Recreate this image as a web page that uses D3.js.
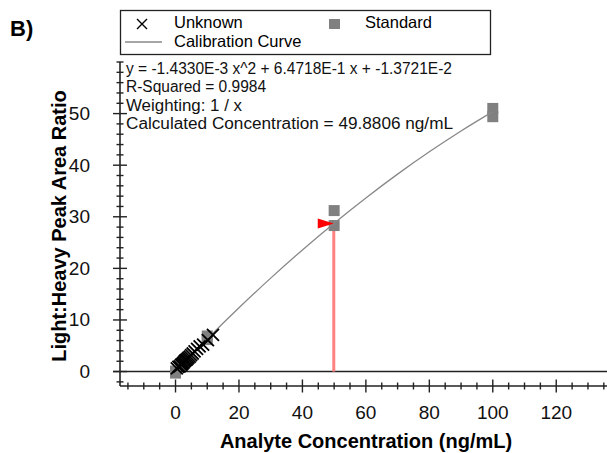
<!DOCTYPE html>
<html>
<head>
<meta charset="utf-8">
<script src="https://cdn.jsdelivr.net/npm/d3@7"></script>
<style>
  body { margin: 0; background: #fff; }
  svg { font-family: Arial, "Liberation Sans", sans-serif; display: block; }
</style>
</head>
<body>
<svg id="chart" width="607" height="453"></svg>
<script>
// calibration curve, sampled along the fitted quadratic shown in the annotation
const curveX = [0, 5, 10, 20, 30, 40, 50, 60, 70, 80, 90, 100];
const curveY = [-0.01, 3.19, 6.32, 12.36, 18.11, 23.58, 28.76, 33.66, 38.27, 42.59, 46.63, 50.38];

// standards (grey squares)
const standardX = [0, 0, 10, 10, 50, 50, 100, 100];
const standardY = [0.1, -0.3, 6.2, 6.9, 31.2, 28.3, 51.0, 49.4];

// unknowns (crosses)
const unknownX = [0.4, 0.9, 1.3, 1.7, 2.0, 2.3, 2.6, 2.9, 3.2, 3.5, 3.8, 4.1, 4.5, 4.9, 5.4, 6.0, 6.8, 7.6, 8.7, 10.2, 11.8];
const unknownY = [0.6, 0.9, 1.0, 1.3, 1.4, 1.6, 1.8, 2.0, 2.2, 2.3, 2.5, 2.7, 2.9, 3.2, 3.5, 3.9, 4.4, 4.9, 5.2, 6.1, 7.1];

// calculated concentration marker
const calcX = [49.8806];
const calcY = [28.70];

const yMajor = [0, 10, 20, 30, 40, 50];
const xMajor = [0, 20, 40, 60, 80, 100, 120];

const annotation = [
  "y = -1.4330E-3 x^2 + 6.4718E-1 x + -1.3721E-2",
  "R-Squared = 0.9984",
  "Weighting: 1 / x",
  "Calculated Concentration = 49.8806 ng/mL"
];
// rendered widths of the annotation lines in the original
const annotationWidth = [326, 140, 116, 327];

const svg = d3.select("#chart");

const x = d3.scaleLinear().domain([-17.5, 136]).range([120, 607]);
const y = d3.scaleLinear().domain([-2.8, 60]).range([386, 62]);

const axisColor = "#222";

// "B)" panel label
svg.append("text")
    .attr("x", 10).attr("y", 36)
    .attr("font-size", 22).attr("font-weight", "bold")
    .text("B)");

// zero line across the plot
svg.append("line")
    .attr("x1", 113).attr("x2", 607)
    .attr("y1", y(0)).attr("y2", y(0))
    .attr("stroke", axisColor).attr("stroke-width", 1.6);

// y axis (ticks crossing the line)
const gy = svg.append("g");
gy.append("line")
    .attr("x1", x(-17.5)).attr("x2", x(-17.5))
    .attr("y1", y(60)).attr("y2", y(-2.8))
    .attr("stroke", axisColor).attr("stroke-width", 1.6);
gy.selectAll("line.minor")
    .data(d3.range(-2, 61, 2))
    .enter().append("line")
    .attr("class", "minor")
    .attr("x1", d => yMajor.includes(d) ? x(-17.5) - 7 : x(-17.5) - 3.5)
    .attr("x2", d => yMajor.includes(d) ? x(-17.5) + 7 : x(-17.5) + 3.5)
    .attr("y1", d => y(d)).attr("y2", d => y(d))
    .attr("stroke", axisColor).attr("stroke-width", 1.4);
gy.selectAll("text")
    .data(yMajor)
    .enter().append("text")
    .attr("x", 90).attr("y", d => y(d))
    .attr("text-anchor", "end")
    .attr("dominant-baseline", "central")
    .attr("font-size", 19)
    .attr("fill", "#111")
    .text(d => d);

// x axis
const gx = svg.append("g");
gx.append("line")
    .attr("x1", x(-17.5)).attr("x2", 607)
    .attr("y1", y(-2.8)).attr("y2", y(-2.8))
    .attr("stroke", axisColor).attr("stroke-width", 1.6);
gx.selectAll("line.minor")
    .data(d3.range(-15, 136, 5))
    .enter().append("line")
    .attr("class", "minor")
    .attr("x1", d => x(d)).attr("x2", d => x(d))
    .attr("y1", d => xMajor.includes(d) ? y(-2.8) - 6.5 : y(-2.8) - 3.5)
    .attr("y2", d => xMajor.includes(d) ? y(-2.8) + 6.5 : y(-2.8) + 3.5)
    .attr("stroke", axisColor).attr("stroke-width", 1.4);
gx.selectAll("text")
    .data(xMajor)
    .enter().append("text")
    .attr("x", d => x(d)).attr("y", 412)
    .attr("text-anchor", "middle")
    .attr("dominant-baseline", "central")
    .attr("font-size", 19)
    .attr("fill", "#111")
    .text(d => d);

// axis titles
svg.append("text")
    .attr("x", 366).attr("y", 448)
    .attr("text-anchor", "middle")
    .attr("font-size", 20).attr("font-weight", "bold")
    .text("Analyte Concentration (ng/mL)");
svg.append("text")
    .attr("transform", "translate(66,226) rotate(-90)")
    .attr("text-anchor", "middle")
    .attr("font-size", 20).attr("font-weight", "bold")
    .text("Light:Heavy Peak Area Ratio");

// calculated concentration drop line
svg.append("line")
    .attr("x1", x(calcX[0])).attr("x2", x(calcX[0]))
    .attr("y1", y(calcY[0])).attr("y2", y(0))
    .attr("stroke", "#ff8080").attr("stroke-width", 3);

// standards
const sq = 11;
svg.append("g").selectAll("rect")
    .data(standardX.map((d, i) => [d, standardY[i]]))
    .enter().append("rect")
    .attr("x", d => x(d[0]) - sq / 2).attr("y", d => y(d[1]) - sq / 2)
    .attr("width", sq).attr("height", sq)
    .attr("fill", "#808080");

// calibration curve
const line = d3.line()
    .x(d => x(d[0])).y(d => y(d[1]))
    .curve(d3.curveMonotoneX);
svg.append("path")
    .datum(curveX.map((d, i) => [d, curveY[i]]))
    .attr("d", line)
    .attr("fill", "none")
    .attr("stroke", "#888").attr("stroke-width", 1.3);

// unknowns as crosses
const cs = 6;
svg.append("g").selectAll("path")
    .data(unknownX.map((d, i) => [d, unknownY[i]]))
    .enter().append("path")
    .attr("d", d => {
        const cx = x(d[0]), cy = y(d[1]);
        return `M${cx - cs},${cy - cs}L${cx + cs},${cy + cs}M${cx - cs},${cy + cs}L${cx + cs},${cy - cs}`;
    })
    .attr("stroke", "#000").attr("stroke-width", 1.8);

// red arrow pointing at the calculated point
const tx = x(calcX[0]), ty = y(calcY[0]);
svg.append("path")
    .attr("d", `M${tx - 16},${ty - 5}L${tx},${ty}L${tx - 16},${ty + 5}Z`)
    .attr("fill", "#ff0000");

// annotation text
svg.append("g").selectAll("text")
    .data(annotation)
    .enter().append("text")
    .attr("x", 126).attr("y", (d, i) => 74 + i * 18.3)
    .attr("font-size", 16)
    .attr("textLength", (d, i) => annotationWidth[i])
    .attr("lengthAdjust", "spacingAndGlyphs")
    .attr("fill", "#111")
    .text(d => d);

// legend
const lg = svg.append("g");
lg.append("rect")
    .attr("x", 120.5).attr("y", 10.5)
    .attr("width", 370).attr("height", 44)
    .attr("fill", "#fff").attr("stroke", "#222").attr("stroke-width", 1.3);
lg.append("path")
    .attr("d", `M${137},${19}L${147},${29}M${137},${29}L${147},${19}`)
    .attr("stroke", "#000").attr("stroke-width", 1.4);
lg.append("text").attr("x", 174).attr("y", 28).attr("font-size", 16.5).text("Unknown");
lg.append("rect")
    .attr("x", 329).attr("y", 19).attr("width", 11).attr("height", 10)
    .attr("fill", "#808080");
lg.append("text").attr("x", 365).attr("y", 28).attr("font-size", 16.5).text("Standard");
lg.append("line")
    .attr("x1", 125).attr("x2", 162).attr("y1", 42).attr("y2", 42)
    .attr("stroke", "#888").attr("stroke-width", 1.3);
lg.append("text").attr("x", 174).attr("y", 47).attr("font-size", 16.5).text("Calibration Curve");
</script>
</body>
</html>
